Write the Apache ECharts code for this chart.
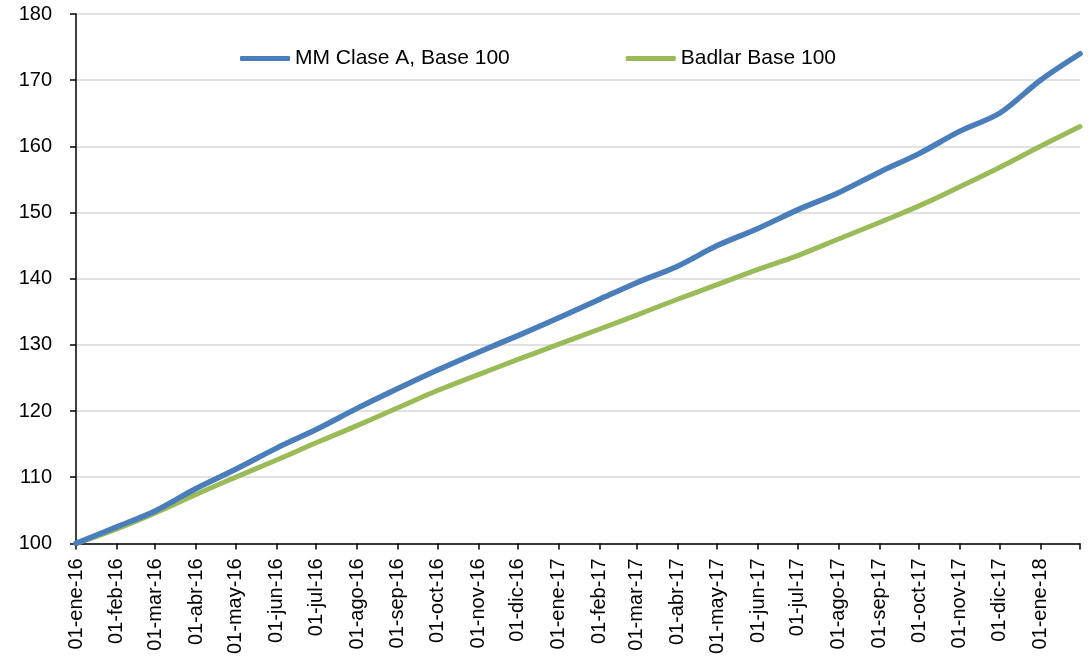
<!DOCTYPE html>
<html>
<head>
<meta charset="utf-8">
<script src="https://cdn.jsdelivr.net/npm/echarts@6/dist/echarts.min.js"></script>
<style>
html,body{margin:0;padding:0;background:#fff;}
#chart{width:1090px;height:657px;}
</style>
</head>
<body>
<div id="chart"></div>
<script>
// ---- data ----
const dates = ['2016-01-01','2016-02-01','2016-03-01','2016-04-01','2016-05-01','2016-06-01',
  '2016-07-01','2016-08-01','2016-09-01','2016-10-01','2016-11-01','2016-12-01',
  '2017-01-01','2017-02-01','2017-03-01','2017-04-01','2017-05-01','2017-06-01',
  '2017-07-01','2017-08-01','2017-09-01','2017-10-01','2017-11-01','2017-12-01',
  '2018-01-01','2018-01-31'];
const mmClaseA = [100, 102.5, 104.9, 108.3, 111.2, 114.4, 117.2, 120.4, 123.4, 126.2, 128.9, 131.4,
  134.1, 136.9, 139.4, 141.9, 145.0, 147.6, 150.4, 153.0, 156.1, 158.9, 162.3, 165.0, 170.0, 174.0];
const badlar = [100, 102.2, 104.6, 107.4, 110.0, 112.6, 115.2, 117.8, 120.5, 123.1, 125.5, 127.8,
  130.1, 132.4, 134.5, 136.9, 139.1, 141.4, 143.5, 146.0, 148.5, 151.0, 153.9, 156.8, 160.0, 163.0];
const tickLabels = ['01-ene-16','01-feb-16','01-mar-16','01-abr-16','01-may-16','01-jun-16',
  '01-jul-16','01-ago-16','01-sep-16','01-oct-16','01-nov-16','01-dic-16',
  '01-ene-17','01-feb-17','01-mar-17','01-abr-17','01-may-17','01-jun-17',
  '01-jul-17','01-ago-17','01-sep-17','01-oct-17','01-nov-17','01-dic-17','01-ene-18'];
const axisEnd = '2018-01-31';
const seriesNames = ['MM Clase A, Base 100', 'Badlar Base 100'];
const yTicks = {min: 100, max: 180, interval: 10};

// ---- helpers: dates become day numbers counted from 2016-01-01 ----
const DAY = 86400000;
const base = Date.UTC(2016, 0, 1);
const monthIdx = {ene:0,feb:1,mar:2,abr:3,may:4,jun:5,jul:6,ago:7,sep:8,oct:9,nov:10,dic:11};
function isoToDay(s){ const p = s.split('-'); return Math.round((Date.UTC(+p[0], +p[1]-1, +p[2]) - base) / DAY); }
function labelToDay(s){ const p = s.split('-'); return Math.round((Date.UTC(2000 + +p[2], monthIdx[p[1]], +p[0]) - base) / DAY); }
const labelDays = tickLabels.map(labelToDay);
const labelMap = {};
labelDays.forEach((d,i)=>{ labelMap[d] = tickLabels[i]; });
const endDay = isoToDay(axisEnd);
const tickDays = labelDays.concat([endDay]);

const font = '"Liberation Sans", Arial, sans-serif';
const chart = echarts.init(document.getElementById('chart'), null, {renderer:'canvas'});
chart.setOption({
  animation: false,
  backgroundColor: '#ffffff',
  grid: {left: 76, right: 10, top: 14, bottom: 109, containLabel: false},
  legend: {
    left: 235, top: 43,
    icon: 'roundRect',
    itemWidth: 50, itemHeight: 5, itemGap: 116,
    textStyle: {fontFamily: font, fontSize: 21, color: '#000'},
    data: seriesNames
  },
  xAxis: {
    type: 'value',
    min: 0, max: endDay,
    axisLine: {show: true, onZero: false, lineStyle: {color: '#000', width: 1.5}},
    axisTick: {show: true, inside: false, length: 6, lineStyle: {color: '#000', width: 1.5}, customValues: tickDays},
    axisLabel: {
      customValues: labelDays,
      rotate: 90, margin: 15,
      fontFamily: font, fontSize: 20, color: '#000',
      formatter: function(v){ return labelMap[Math.round(v)] || ''; }
    },
    splitLine: {show: false}
  },
  yAxis: {
    type: 'value',
    min: yTicks.min, max: yTicks.max, interval: yTicks.interval,
    axisLine: {show: true, lineStyle: {color: '#000', width: 1.5}},
    axisTick: {show: true, inside: false, length: 6, lineStyle: {color: '#000', width: 1.5}},
    axisLabel: {margin: 24, fontFamily: font, fontSize: 20, color: '#000'},
    splitLine: {show: true, lineStyle: {color: '#d9d9d9', width: 1.5}}
  },
  series: [
    {
      name: seriesNames[0], type: 'line', symbol: 'none', smooth: 0.3,
      color: '#4a7ebb',
      lineStyle: {color: '#4a7ebb', width: 5.5, cap: 'round', join: 'round'},
      data: dates.map((d,i)=>[isoToDay(d), mmClaseA[i]]),
      z: 3
    },
    {
      name: seriesNames[1], type: 'line', symbol: 'none', smooth: 0.5,
      color: '#9bbb59',
      lineStyle: {color: '#9bbb59', width: 5, cap: 'round', join: 'round'},
      data: dates.map((d,i)=>[isoToDay(d), badlar[i]]),
      z: 2
    }
  ]
});
</script>
</body>
</html>
